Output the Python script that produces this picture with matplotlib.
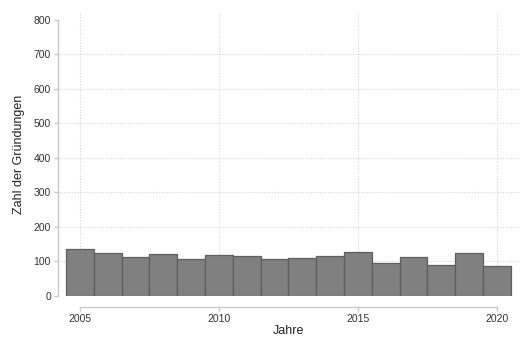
import matplotlib
matplotlib.use("Agg")
import matplotlib.pyplot as plt
import numpy as np

years = [2005, 2006, 2007, 2008, 2009, 2010, 2011, 2012,
         2013, 2014, 2015, 2016, 2017, 2018, 2019, 2020]
counts = [135, 125, 112, 122, 106, 120, 117, 108,
          111, 117, 128, 97, 114, 90, 124, 87]
x_ticks = [2005, 2010, 2015, 2020]
y_ticks = [0, 100, 200, 300, 400, 500, 600, 700, 800]

plt.rcParams['font.family'] = ['Liberation Sans', 'DejaVu Sans']

fig = plt.figure(figsize=(5.26, 3.39), dpi=100)
ax = fig.add_axes([58/526, 1-296/339, (520-58)/526, (296-12)/339])

ax.bar(years, counts, width=1.0, color='#808080', edgecolor='#5e5e5e',
       linewidth=0.9, zorder=3)

ax.set_xlim(2004.21, 2020.83)
ax.set_ylim(0, 823)
ax.set_xticks(x_ticks)
ax.set_yticks(y_ticks)

grid_style = dict(color='#d6d6d6', linestyle=(0, (1, 1.5)), linewidth=0.8, zorder=0)
ax.xaxis.grid(True, **grid_style)
for yv in y_ticks[1:-1]:
    ax.axhline(yv, **grid_style)

for s in ['top', 'right']:
    ax.spines[s].set_visible(False)
ax.spines['left'].set_bounds(0, 800)
ax.spines['bottom'].set_bounds(2005, 2020)
ax.spines['bottom'].set_position(('outward', 8))
for s in ['left', 'bottom']:
    ax.spines[s].set_color('#c8c8c8')
    ax.spines[s].set_linewidth(1.0)

ax.tick_params(axis='both', colors='#c8c8c8', labelcolor='#333333',
               labelsize=7.5, length=3, width=1.0)
ax.tick_params(axis='x', pad=2)
ax.tick_params(axis='y', pad=2)

ax.set_xlabel('Jahre', fontsize=9, color='#222222', labelpad=1)
ax.set_ylabel('Zahl der Gründungen', fontsize=9, color='#222222', labelpad=6)

fig.savefig('out.png', dpi=100, facecolor='white')
